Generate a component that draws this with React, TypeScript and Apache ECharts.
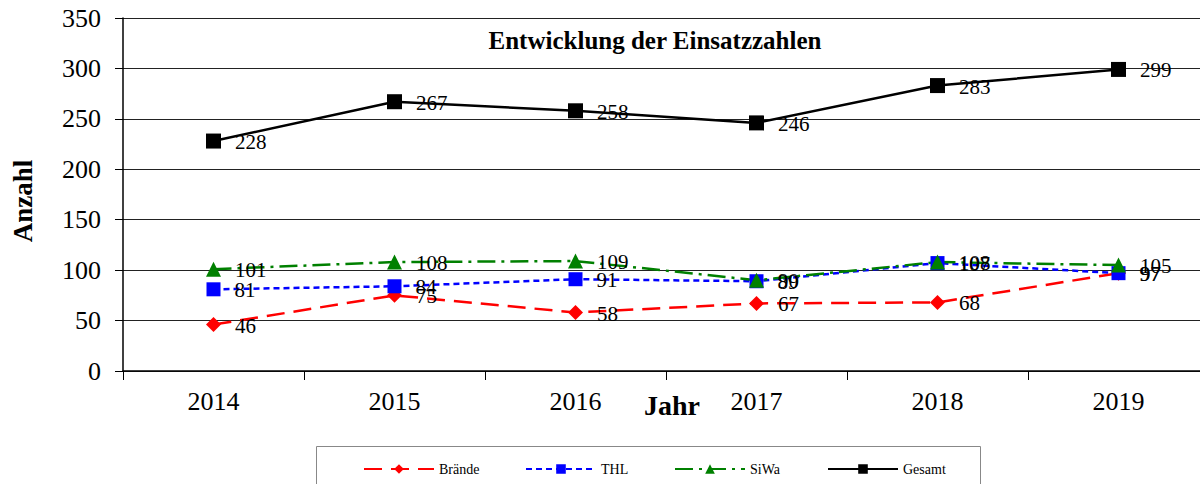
import React, { useEffect, useRef } from "react";
import * as echarts from "echarts";

const years = ["2014", "2015", "2016", "2017", "2018", "2019"];
const braende = [46, 75, 58, 67, 68, 97];
const thl = [81, 84, 91, 89, 107, 97];
const siwa = [101, 108, 109, 90, 108, 105];
const gesamt = [228, 267, 258, 246, 283, 299];

const FONT = "Liberation Serif";

export default function App() {
  const ref = useRef<HTMLDivElement>(null);
  useEffect(() => {
    document.body.style.margin = "0";
    const chart = echarts.init(ref.current!, undefined, { renderer: "svg" });
    const label = {
      show: true,
      position: "right",
      distance: 14,
      offset: [0, 1],
      fontFamily: FONT,
      fontSize: 21,
      color: "#000",
    };
    const mkLegend = (name: string, left: number) => ({
      data: [name],
      left,
      top: 457,
      itemWidth: 70,
      itemHeight: 12,
      itemGap: 0,
      textStyle: { fontFamily: FONT, fontSize: 14, color: "#000" },
    });
    chart.setOption({
      animation: false,
      backgroundColor: "#fff",
      textStyle: { fontFamily: FONT },
      grid: { left: 123, top: 18, width: 1086, height: 353, outerBoundsMode: "none", containLabel: false },
      xAxis: {
        type: "category",
        data: years,
        boundaryGap: true,
        axisLine: { lineStyle: { color: "#000", width: 1.5 } },
        axisTick: { show: true, length: 9, lineStyle: { color: "#000" } },
        axisLabel: { fontFamily: FONT, fontSize: 26, color: "#000", margin: 17 },
      },
      yAxis: {
        type: "value",
        min: 0,
        max: 350,
        interval: 50,
        axisLine: { show: true, lineStyle: { color: "#000", width: 1.5 } },
        axisTick: { show: true, length: 8, lineStyle: { color: "#000" } },
        axisLabel: { fontFamily: FONT, fontSize: 26, color: "#000", margin: 22 },
        splitLine: { show: true, lineStyle: { color: "#222", width: 1 } },
      },
      legend: [
        mkLegend("Brände", 358),
        mkLegend("THL", 520),
        mkLegend("SiWa", 669),
        mkLegend("Gesamt", 822),
      ],
      graphic: [
        {
          type: "rect",
          shape: { x: 316.5, y: 446.5, width: 664, height: 60 },
          style: { fill: "none", stroke: "#888", lineWidth: 1 },
        },
        {
          type: "text",
          x: 655,
          y: 40,
          style: {
            text: "Entwicklung der Einsatzzahlen",
            fontFamily: FONT,
            fontWeight: "bold",
            fontSize: 25,
            fill: "#000",
            align: "center",
            verticalAlign: "middle",
          },
        },
        {
          type: "text",
          x: 23,
          y: 201,
          rotation: Math.PI / 2,
          style: {
            text: "Anzahl",
            fontFamily: FONT,
            fontWeight: "bold",
            fontSize: 27,
            fill: "#000",
            align: "center",
            verticalAlign: "middle",
          },
        },
        {
          type: "text",
          x: 672,
          y: 405,
          style: {
            text: "Jahr",
            fontFamily: FONT,
            fontWeight: "bold",
            fontSize: 28,
            fill: "#000",
            align: "center",
            verticalAlign: "middle",
          },
        },
      ],
      series: [
        {
          name: "Brände",
          type: "line",
          data: braende,
          symbol: "diamond",
          symbolSize: 15,
          itemStyle: { color: "#ff0000" },
          lineStyle: { color: "#ff0000", width: 2.5, type: [18, 9] },
          label,
        },
        {
          name: "THL",
          type: "line",
          data: thl,
          symbol: "rect",
          symbolSize: 14,
          itemStyle: { color: "#0000ff" },
          lineStyle: { color: "#0000ff", width: 2.5, type: [6, 4] },
          label,
        },
        {
          name: "SiWa",
          type: "line",
          data: siwa,
          symbol: "triangle",
          symbolSize: 15,
          itemStyle: { color: "#008000" },
          lineStyle: { color: "#008000", width: 2.5, type: [18, 6, 3, 6] },
          label,
        },
        {
          name: "Gesamt",
          type: "line",
          data: gesamt,
          symbol: "rect",
          symbolSize: 15,
          itemStyle: { color: "#000" },
          lineStyle: { color: "#000", width: 2.5 },
          label,
        },
      ],
    });
    return () => chart.dispose();
  }, []);
  return (
    <div
      ref={ref}
      style={{ position: "absolute", left: 0, top: 0, width: 1200, height: 484 }}
    />
  );
}
